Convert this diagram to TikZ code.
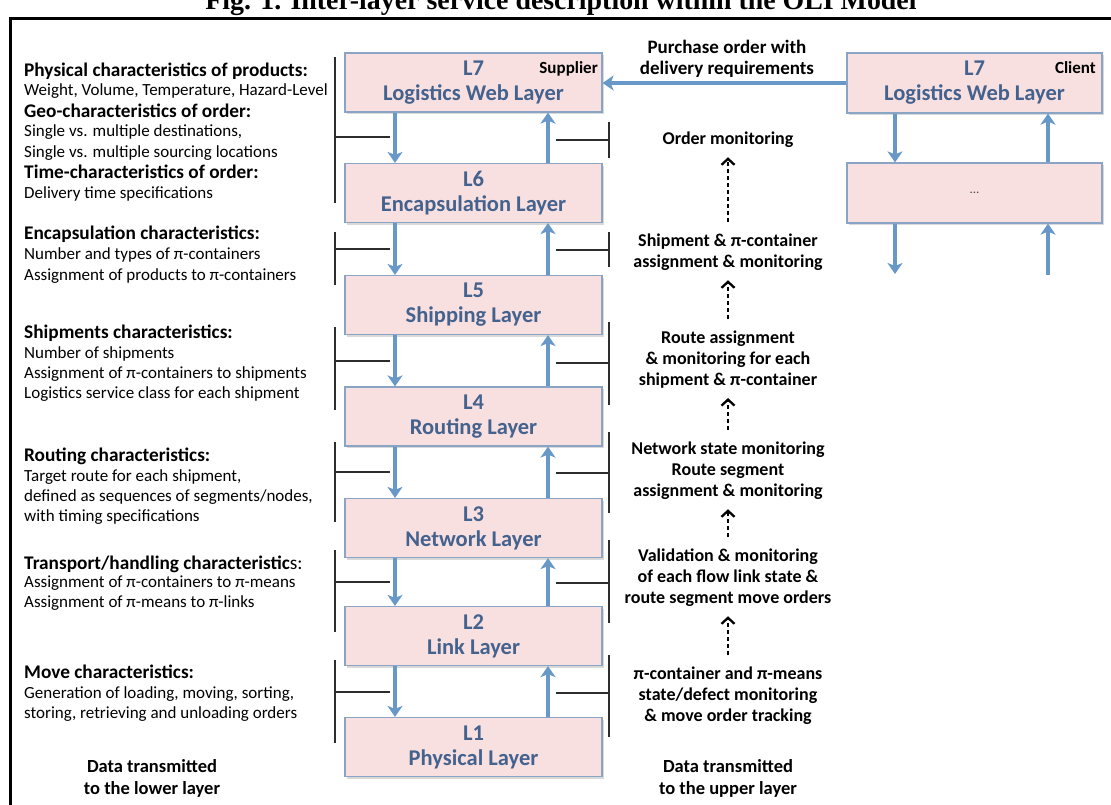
\documentclass[tikz,border=0pt]{standalone}
\usepackage{graphicx}
\usepackage{fontspec}
\setmainfont{Carlito}
\newfontfamily\titlefont{Liberation Serif}
\usetikzlibrary{arrows.meta,shadows}

\definecolor{boxfill}{RGB}{248,224,224}
\definecolor{boxdraw}{RGB}{138,164,198}
\definecolor{boxtext}{RGB}{68,98,142}
\definecolor{flowblue}{RGB}{104,152,200}
\definecolor{bracketgray}{RGB}{45,45,45}

\begin{document}
\begin{tikzpicture}[x=1pt,y=-1pt,
  layer/.style={draw=boxdraw,fill=boxfill,line width=1.2pt,minimum width=257pt,minimum height=59pt,
    inner sep=0pt,align=center,text=boxtext,font=\fontsize{22.5}{25}\selectfont\bfseries,
    drop shadow={shadow xshift=1.5pt,shadow yshift=-2pt,opacity=0.3}},
  hd/.style={anchor=base west,inner sep=0pt,font=\fontsize{19.3}{20}\selectfont\bfseries},
  bd/.style={anchor=base west,inner sep=0pt,font=\fontsize{17}{20}\selectfont},
  rt/.style={align=center,anchor=base,inner sep=0pt,font=\fontsize{18}{21}\selectfont\bfseries},
  tag/.style={anchor=base east,inner sep=0pt,font=\fontsize{17}{20}\selectfont\bfseries},
  flow/.style={draw=flowblue,line width=4pt,-{Stealth[length=11pt,width=15pt,inset=3pt]}},
  dflow/.style={draw=black,line width=1.3pt,dash pattern=on 4pt off 3pt,
    -{Straight Barb[length=6pt,width=13pt,line width=2.3pt]},shorten >=10pt,shorten <=11pt},
  bracket/.style={draw=bracketgray,line width=1.6pt}]

\useasboundingbox (0,0) rectangle (1111,804);

% title (clipped at top) and frame
\node[font=\titlefont\bfseries,anchor=base,inner sep=0pt] (title) at (561,9)
  {\resizebox{711pt}{!}{Fig. 1. Inter-layer service description within the OLI Model}};
\draw[line width=3pt] (10,830) -- (10,18) -- (1130,18);

% supplier stack
\node[layer] (L7) at (473.5,82.5) {L7\\Logistics Web Layer};
\node[layer] (L6) at (473.5,193) {L6\\Encapsulation Layer};
\node[layer] (L5) at (473.5,305) {L5\\Shipping Layer};
\node[layer] (L4) at (473.5,416.5) {L4\\Routing Layer};
\node[layer] (L3) at (473.5,528) {L3\\Network Layer};
\node[layer] (L2) at (473.5,636) {L2\\Link Layer};
\node[layer] (L1) at (473.5,747) {L1\\Physical Layer};
\node[tag] (sup) at (598,73) {Supplier};

% client stack
\node[layer,minimum width=255pt,minimum height=60pt] (C7) at (974.5,83) {L7\\Logistics Web Layer};
\node[layer,minimum width=255pt,minimum height=60pt] (C6) at (974.5,193)
  {\fontsize{13}{13}\selectfont\mdseries\textcolor{black!70}{...}};
\node[tag] (cli) at (1096,73) {Client};

% vertical flows
\coordinate (xdn) at (395,0);
\coordinate (xup) at (548,0);
\foreach \u/\l in {L7/L6,L6/L5,L5/L4,L4/L3,L3/L2,L2/L1}{
  \draw[flow] (\u.south -| xdn) -- (\l.north -| xdn);
  \draw[flow] (\l.north -| xup) -- (\u.south -| xup);
}
\coordinate (cxdn) at (895,0);
\coordinate (cxup) at (1048,0);
\coordinate (cdend) at (895,274);
\coordinate (cuend) at (1048,275);
\draw[flow] (C7.south -| cxdn) -- (C6.north -| cxdn);
\draw[flow] (C6.north -| cxup) -- (C7.south -| cxup);
\draw[flow] (C6.south -| cxdn) -- (cdend);
\draw[flow] (cuend) -- (C6.south -| cxup);

% purchase order
\draw[flow] (C7.west) -- (L7.east |- C7.west);
\node[rt,font=\fontsize{19}{21}\selectfont\bfseries] (po) at (727,74) {Purchase order with\\delivery requirements};

% brackets
\foreach \a/\b/\m in {57/203/137,232/285/249,327/410/361,442/522/472,550/632/582,660/743/692}{
  \draw[bracket] (335,\a) -- (335,\b);
  \draw[bracket] (335,\m) -- (390,\m);
}
\foreach \a/\b/\m in {122/158/140,232/267/250,322/405/363,432/513/473,540/623/583,655/737/693}{
  \draw[bracket] (609,\a) -- (609,\b);
  \draw[bracket] (556,\m) -- (609,\m);
}

% left descriptions
\node[hd] (h1) at (24,76) {Physical characteristics of products:};
\node[bd] (b1) at (24,95.5) {Weight, Volume, Temperature, Hazard-Level};
\node[hd] (h2) at (24,117) {Geo-characteristics of order:};
\node[bd] (b2) at (24,136.5) {Single vs. multiple destinations,};
\node[bd] (b3) at (24,157) {Single vs. multiple sourcing locations};
\node[hd] (h3) at (24,178.5) {Time-characteristics of order:};
\node[bd] (b4) at (24,198) {Delivery time specifications};

\node[hd] (h4) at (24,239) {Encapsulation characteristics:};
\node[bd] (b5) at (24,259) {Number and types of π-containers};
\node[bd] (b6) at (24,280) {Assignment of products to π-containers};

\node[hd] (h5) at (24,338) {Shipments characteristics:};
\node[bd] (b7) at (24,358) {Number of shipments};
\node[bd] (b8) at (24,378) {Assignment of π-containers to shipments};
\node[bd] (b9) at (24,398) {Logistics service class for each shipment};

\node[hd] (h6) at (24,461) {Routing characteristics:};
\node[bd] (b10) at (24,481) {Target route for each shipment,};
\node[bd] (b11) at (24,501) {defined as sequences of segments/nodes,};
\node[bd] (b12) at (24,521) {with timing specifications};

\node[hd] (h7) at (24,569) {Transport/handling characteristic{\mdseries s:}};
\node[bd] (b13) at (24,587) {Assignment of π-containers to π-means};
\node[bd] (b14) at (24,607) {Assignment of π-means to π-links};

\node[hd] (h8) at (24,678) {Move characteristics:};
\node[bd] (b15) at (24,698) {Generation of loading, moving, sorting,};
\node[bd] (b16) at (24,718) {storing, retrieving and unloading orders};

\node[rt,font=\fontsize{18.5}{22}\selectfont\bfseries] (dl) at (152,794) {Data transmitted\\to the lower layer};

% right descriptions
\node[rt] (r1) at (728,144) {Order monitoring};
\node[rt] (r2) at (728,267) {Shipment \& π-container\\assignment \& monitoring};
\node[rt] (r3) at (728,385) {Route assignment\\\& monitoring for each\\shipment \& π-container};
\node[rt] (r4) at (728,496) {Network state monitoring\\Route segment\\assignment \& monitoring};
\node[rt] (r5) at (728,603) {Validation \& monitoring\\of each flow link state \&\\route segment move orders};
\node[rt] (r6) at (728,721) {π-container and π-means\\state/defect monitoring\\\& move order tracking};
\node[rt,font=\fontsize{18.5}{22}\selectfont\bfseries] (du) at (728,794) {Data transmitted\\to the upper layer};

\draw[dflow] (r2) -- (r1);
\draw[dflow] (r3) -- (r2);
\draw[dflow] (r4) -- (r3);
\draw[dflow] (r5) -- (r4);
\draw[dflow] (r6) -- (r5);
\end{tikzpicture}
\end{document}
